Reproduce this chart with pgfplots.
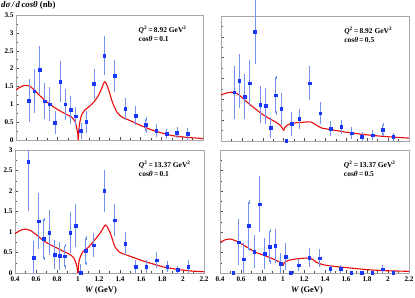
\documentclass[border=0pt]{standalone}
\usepackage{fontspec}
\setmainfont{Liberation Serif}
\usepackage{pgfplots}
\usepackage{pgfplotstable}
\pgfplotsset{compat=1.18}
\definecolor{ptblue}{RGB}{25,55,250}
\definecolor{barblue}{RGB}{115,145,240}
\definecolor{curvered}{RGB}{235,10,10}

\pgfplotstableread{
W v e
0.525 1.10 0.55
0.575 1.37 0.56
0.625 1.96 0.63
0.675 1.09 0.45
0.725 1.00 0.43
0.775 0.49 0.28
0.825 1.64 0.52
0.875 1.00 0.38
0.925 0.84 0.35
0.975 0.67 0.22
1.025 0.26 0.18
1.075 0.51 0.26
1.15 1.57 0.37
1.25 2.37 0.50
1.35 1.80 0.40
1.45 0.87 0.25
1.55 0.68 0.22
1.65 0.42 0.17
1.75 0.26 0.13
1.85 0.17 0.09
1.95 0.21 0.12
2.05 0.17 0.11
}\dataTL

\pgfplotstableread{
W v e
0.525 1.17 0.59
0.575 1.44 0.61
0.625 1.07 0.50
0.675 1.39 0.52
0.725 2.63 0.75
0.775 0.87 0.40
0.825 0.85 0.39
0.875 0.32 0.21
0.925 1.10 0.43
0.975 0.77 0.35
1.025 0.00 0.00
1.075 0.41 0.24
1.15 0.53 0.19
1.25 1.39 0.36
1.35 0.67 0.22
1.45 0.30 0.14
1.55 0.34 0.13
1.65 0.19 0.10
1.75 0.11 0.06
1.85 0.14 0.08
1.95 0.27 0.12
2.05 0.10 0.05
}\dataTR

\pgfplotstableread{
W v e
0.525 2.71 1.15
0.575 0.37 0.37
0.625 1.26 0.64
0.675 0.83 0.48
0.725 0.98 0.51
0.775 0.45 0.32
0.825 0.42 0.30
0.875 0.41 0.26
0.925 0.99 0.46
0.975 1.15 0.48
1.025 0.00 0.18
1.075 0.54 0.31
1.15 0.68 0.25
1.25 2.00 0.47
1.35 1.29 0.35
1.45 0.72 0.25
1.55 0.16 0.11
1.65 0.16 0.11
1.75 0.31 0.15
1.85 0.16 0.10
1.95 0.08 0.06
2.05 0.16 0.11
}\dataBL

\pgfplotstableread{
W v e
0.525 0.00 0.00
0.575 0.75 0.52
0.625 0.34 0.34
0.675 1.15 0.58
0.725 0.52 0.36
0.775 1.68 0.65
0.825 0.47 0.34
0.875 0.65 0.38
0.925 0.66 0.38
0.975 0.23 0.21
1.025 0.40 0.28
1.075 0.00 0.00
1.15 0.19 0.11
1.25 0.37 0.19
1.35 0.36 0.18
1.45 0.10 0.05
1.55 0.10 0.06
1.65 0.00 0.00
1.75 0.00 0.00
1.85 0.00 0.00
1.95 0.09 0.07
2.05 0.00 0.00
}\dataBR

\pgfplotsset{
  panel/.style={
    scale only axis,
    xmin=0.4, xmax=2.2, ymin=0,
    xtick={0.4,0.6,0.8,1,1.2,1.4,1.6,1.8,2,2.2},
    minor x tick num=1,
    minor y tick num=1,
    tick pos=left,
    tick align=inside,
    major tick length=3bp, minor tick length=1.6bp,
    axis line style={gray!70, line width=0.6pt},
    tick style={gray!60!black, line width=0.4pt},
    ticklabel style={font=\fontsize{7.2}{8}\selectfont\bfseries},
    /pgf/number format/assume math mode=true,
    xticklabel style={yshift=0bp},
    yticklabel style={xshift=1bp},
  },
  pts/.style={only marks, mark=square*, mark size=1.35bp, color=ptblue,
    mark options={fill=ptblue, draw=ptblue},
    error bars/.cd, y dir=both, y explicit,
    error bar style={barblue, line width=0.8pt},
    error mark options={barblue, mark size=1.7bp, line width=0.6pt}},
  crv/.style={curvered, line width=1.1pt, no marks, smooth, tension=0.3},
}

\newcommand{\lbl}[2]{\node[anchor=north west, align=left, inner sep=0pt,
  font=\fontsize{7.5}{9}\selectfont\bfseries] at (rel axis cs:0.655,0.91)
  {{\itshape Q}\textsuperscript{2}\,=\,#1 GeV\textsuperscript{2}\\cos{\itshape θ}\,=\,#2};}

\begin{document}
\begin{tikzpicture}
\useasboundingbox (0,0) rectangle (415bp,298bp);

% top left
\begin{axis}[panel, at={(16bp,158bp)}, width=187bp, height=125bp,
  ymax=3.5, ytick={0,0.5,1,1.5,2,2.5,3,3.5}, xticklabels={}]
\addplot[crv] coordinates {(0.40,1.40) (0.44,1.48) (0.48,1.53) (0.50,1.53) (0.535,1.50) (0.58,1.39) (0.63,1.24) (0.695,1.07) (0.76,0.93) (0.82,0.82) (0.89,0.71) (0.935,0.64) (0.955,0.58) (0.97,0.50) (0.98,0.40) (0.99,0.26) (0.995,0.16) (1.0,0.0)};
\addplot[crv] coordinates {(1.0,0.0) (1.004,0.25) (1.01,0.42) (1.02,0.58) (1.03,0.69) (1.06,0.83) (1.11,0.95) (1.16,1.10) (1.20,1.28) (1.23,1.48) (1.245,1.60) (1.255,1.63) (1.265,1.60) (1.28,1.50) (1.30,1.33) (1.33,1.04) (1.37,0.79) (1.415,0.65) (1.50,0.54) (1.59,0.42) (1.69,0.30) (1.785,0.21) (1.91,0.12) (2.04,0.075) (2.2,0.04)};
\addplot[pts] table[x=W, y=v, y error=e] {\dataTL};
\lbl{8.92}{0.1}
\end{axis}

% top right
\begin{axis}[panel, at={(221bp,157bp)}, width=188bp, height=125bp,
  ymax=3, ytick={0,0.5,1,1.5,2,2.5,3}, xticklabels={}, yticklabels={}, clip=false]
\addplot[crv] coordinates {(0.40,1.11) (0.45,1.15) (0.50,1.17) (0.55,1.14) (0.60,1.05) (0.66,0.91) (0.73,0.77) (0.79,0.65) (0.855,0.55) (0.92,0.46) (0.965,0.38) (0.985,0.32) (1.0,0.25)};
\addplot[crv] coordinates {(1.0,0.25) (1.01,0.32) (1.03,0.37) (1.06,0.41) (1.125,0.44) (1.19,0.45) (1.24,0.46) (1.27,0.45) (1.30,0.40) (1.32,0.37) (1.365,0.31) (1.46,0.27) (1.59,0.215) (1.75,0.16) (1.91,0.12) (2.07,0.09) (2.2,0.07)};
\addplot[pts] table[x=W, y=v, y error=e] {\dataTR};
\lbl{8.92}{0.5}
\end{axis}

% bottom left
\begin{axis}[panel, at={(15bp,25bp)}, width=189bp, height=123bp,
  ymax=3, ytick={0,0.5,1,1.5,2,2.5,3}]
\addplot[crv] coordinates {(0.40,0.96) (0.45,1.04) (0.495,1.07) (0.545,1.04) (0.605,0.93) (0.67,0.79) (0.735,0.69) (0.80,0.61) (0.86,0.53) (0.925,0.45) (0.96,0.37) (0.98,0.25) (0.99,0.15) (1.0,0.0)};
\addplot[crv] coordinates {(1.0,0.0) (1.006,0.22) (1.015,0.34) (1.03,0.44) (1.05,0.53) (1.10,0.63) (1.16,0.81) (1.21,0.97) (1.245,1.12) (1.26,1.17) (1.275,1.14) (1.31,0.96) (1.35,0.65) (1.40,0.50) (1.495,0.41) (1.59,0.32) (1.69,0.24) (1.81,0.15) (1.94,0.09) (2.07,0.05) (2.2,0.03)};
\addplot[pts] table[x=W, y=v, y error=e] {\dataBL};
\lbl{13.37}{0.1}
\end{axis}

% bottom right
\begin{axis}[panel, at={(220bp,25bp)}, width=189bp, height=123bp,
  ymax=3, ytick={0,0.5,1,1.5,2,2.5,3}, yticklabels={}]
\addplot[crv] coordinates {(0.40,0.75) (0.45,0.81) (0.495,0.83) (0.545,0.79) (0.605,0.71) (0.67,0.61) (0.735,0.51) (0.80,0.45) (0.86,0.39) (0.925,0.32) (0.97,0.26) (0.99,0.21) (1.0,0.18)};
\addplot[crv] coordinates {(1.0,0.18) (1.01,0.24) (1.025,0.28) (1.07,0.32) (1.15,0.35) (1.225,0.365) (1.265,0.355) (1.29,0.32) (1.32,0.26) (1.385,0.20) (1.495,0.16) (1.65,0.12) (1.81,0.08) (1.97,0.057) (2.2,0.04)};
\addplot[pts] table[x=W, y=v, y error=e] {\dataBR};
\lbl{13.37}{0.5}
\end{axis}

\node[anchor=north west, inner sep=0pt, font=\fontsize{8.8}{10}\selectfont\bfseries]
  at (1bp,297bp) {{\itshape dσ\,/\,d\,cosθ} (nb)};
\node[anchor=base, inner sep=0pt, font=\fontsize{8.5}{10}\selectfont\bfseries]
  at (101bp,6bp) {{\itshape W} (GeV)};
\node[anchor=base, inner sep=0pt, font=\fontsize{8.5}{10}\selectfont\bfseries]
  at (307bp,6bp) {{\itshape W} (GeV)};
\end{tikzpicture}
\end{document}
